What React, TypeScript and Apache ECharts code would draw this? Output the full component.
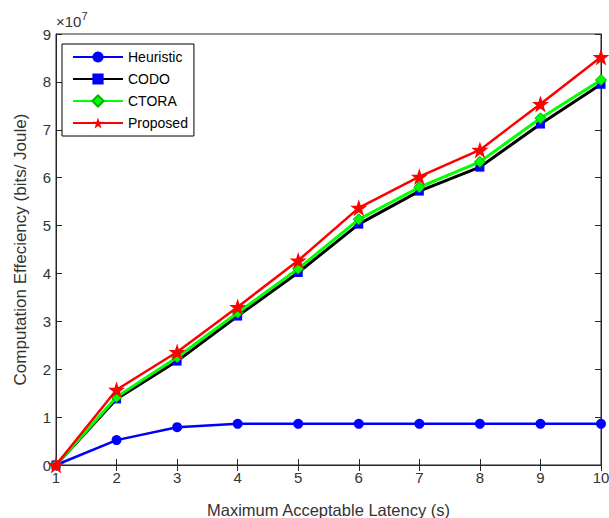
import React, { useEffect, useRef } from "react";
import * as echarts from "echarts";

const latency = [1, 2, 3, 4, 5, 6, 7, 8, 9, 10];
const heuristic = [0, 0.52, 0.79, 0.86, 0.86, 0.86, 0.86, 0.86, 0.86, 0.86];
const codo = [0, 1.38, 2.17, 3.11, 4.02, 5.03, 5.72, 6.22, 7.12, 7.95];
const ctora = [0, 1.42, 2.25, 3.18, 4.1, 5.13, 5.8, 6.33, 7.24, 8.04];
const proposed = [0, 1.57, 2.36, 3.3, 4.27, 5.37, 6.02, 6.58, 7.54, 8.52];
const yTicks = [0, 1, 2, 3, 4, 5, 6, 7, 8, 9];

const STAR =
  "path://M50,0 L61.8,35.3 L99,35.3 L69,57.3 L80.3,92.7 L50,70.7 L19.7,92.7 L31,57.3 L1,35.3 L38.2,35.3 Z";

const toPairs = (ys: number[]) => latency.map((x, i) => [x, ys[i]]);

export default function App() {
  const ref = useRef<HTMLDivElement>(null);
  useEffect(() => {
    if (!ref.current) return;
    const chart = echarts.init(ref.current, null, { renderer: "svg" });
    const font = "Liberation Sans, Arial, sans-serif";
    const axisText = { color: "#333333", fontSize: 15, fontFamily: font };
    chart.setOption({
      animation: false,
      backgroundColor: "#ffffff",
      grid: {
        left: 56,
        right: 8,
        top: 34,
        bottom: 53,
        show: true,
        borderColor: "#262626",
        borderWidth: 1,
        outerBoundsMode: "none",
        containLabel: false,
      },
      legend: {
        left: 62,
        top: 44,
        orient: "vertical",
        itemWidth: 50,
        itemHeight: 14,
        itemGap: 8,
        padding: [6, 6, 6, 10],
        borderColor: "#000",
        borderWidth: 1,
        backgroundColor: "#fff",
        textStyle: { color: "#000", fontSize: 14, fontFamily: font },
        data: ["Heuristic", "CODO", "CTORA", "Proposed"],
      },
      xAxis: [
        {
          type: "value",
          min: 1,
          max: 10,
          interval: 1,
          name: "Maximum Acceptable Latency (s)",
          nameLocation: "middle",
          nameGap: 36,
          nameTextStyle: { ...axisText, fontSize: 16.5 },
          axisLine: { show: true, lineStyle: { color: "#262626" } },
          axisTick: { show: true, inside: true, length: 6, lineStyle: { color: "#262626" } },
          axisLabel: { ...axisText, margin: 5 },
          splitLine: { show: false },
        },
        {
          type: "value",
          position: "top",
          min: 1,
          max: 10,
          interval: 1,
          axisLine: { show: true, lineStyle: { color: "#262626" } },
          axisTick: { show: true, inside: true, length: 6, lineStyle: { color: "#262626" } },
          axisLabel: { show: false },
          splitLine: { show: false },
        },
      ],
      yAxis: [
        {
          type: "value",
          min: 0,
          max: 9,
          interval: 1,
          name: "Computation Effeciency (bits/ Joule)",
          nameLocation: "middle",
          nameGap: 27,
          nameTextStyle: { ...axisText, fontSize: 17 },
          axisLine: { show: true, lineStyle: { color: "#262626" } },
          axisTick: { show: true, inside: true, length: 6, lineStyle: { color: "#262626" } },
          axisLabel: { ...axisText, margin: 5, formatter: (v: number) => String(yTicks[v] ?? v) },
          splitLine: { show: false },
        },
        {
          type: "value",
          position: "right",
          min: 0,
          max: 9,
          interval: 1,
          axisLine: { show: true, lineStyle: { color: "#262626" } },
          axisTick: { show: true, inside: true, length: 6, lineStyle: { color: "#262626" } },
          axisLabel: { show: false },
          splitLine: { show: false },
        },
      ],
      graphic: [
        {
          type: "text",
          left: 56,
          top: 10,
          style: {
            text: "{a|×10}{b|7}",
            rich: {
              a: { fontSize: 15, fontFamily: font, fill: "#333333", verticalAlign: "bottom" },
              b: { fontSize: 11, fontFamily: font, fill: "#333333", verticalAlign: "top", padding: [0, 0, 8, 0] },
            },
          },
        },
      ],
      series: [
        {
          name: "Heuristic",
          type: "line",
          data: toPairs(heuristic),
          symbol: "circle",
          symbolSize: 10,
          lineStyle: { color: "#0000ff", width: 2.5 },
          itemStyle: { color: "#0000ff" },
          z: 2,
        },
        {
          name: "CODO",
          type: "line",
          data: toPairs(codo),
          symbol: "rect",
          symbolSize: 9,
          lineStyle: { color: "#000000", width: 3 },
          itemStyle: { color: "#0000ff" },
          z: 3,
        },
        {
          name: "CTORA",
          type: "line",
          data: toPairs(ctora),
          symbol: "diamond",
          symbolSize: 11,
          lineStyle: { color: "#00ff00", width: 3 },
          itemStyle: { color: "#00ff00", borderColor: "#00b000", borderWidth: 1 },
          z: 4,
        },
        {
          name: "Proposed",
          type: "line",
          data: toPairs(proposed),
          symbol: STAR,
          symbolSize: 17,
          lineStyle: { color: "#ff0000", width: 2.5 },
          itemStyle: { color: "#ff0000" },
          z: 5,
        },
      ],
    });
    return () => chart.dispose();
  }, []);
  return <div ref={ref} style={{ width: 609, height: 518, position: "absolute", left: 0, top: 0 }} />;
}
